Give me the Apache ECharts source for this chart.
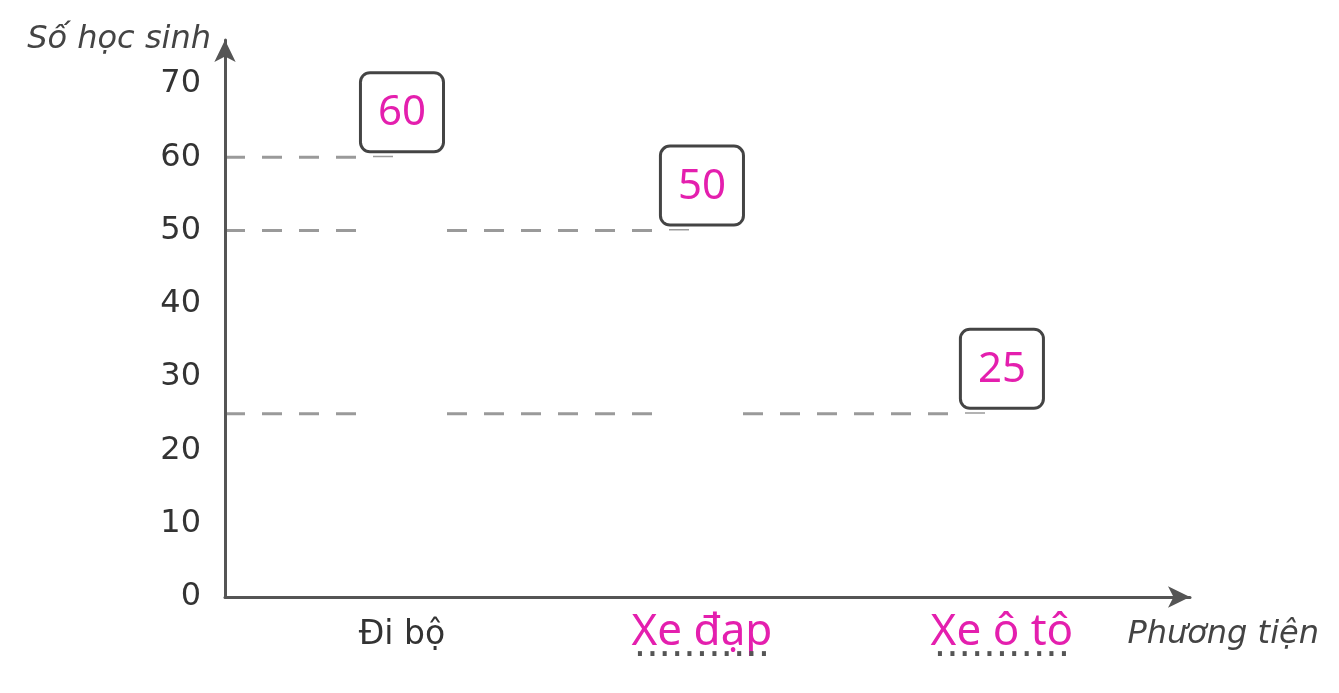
<!DOCTYPE html>
<html lang="vi">
<head>
    <meta charset="UTF-8">
    <title>Số học sinh theo phương tiện</title>
    <script src="https://cdn.jsdelivr.net/npm/echarts@6/dist/echarts.min.js"></script>
    <style>
        html, body { margin: 0; padding: 0; background: #fff; }
    </style>
</head>
<body>
    <div id="main" style="width: 1339px; height: 693px"></div>
    <script>
        // du lieu
        var categories = ['Đi bộ', 'Xe đạp', 'Xe ô tô'];
        var values = [60, 50, 25];
        var filledIn = [false, true, true];   // nhung o hoc sinh dien vao (mau hong)
        var yTicks = [0, 10, 20, 30, 40, 50, 60, 70];

        var XMIN = -0.59, XMAX = 2.627;
        var PINK = '#e41fae';

        var mychart = echarts.init(document.getElementById('main'));

        // duong gach ngang tu truc tung den cot
        var guideSeries = values.map(function (v, i) {
            return {
                type: 'line',
                z: 1,
                symbol: 'none',
                silent: true,
                data: [[XMIN, v], [i, v]],
                lineStyle: { color: '#9a9a9a', width: 3, type: [20, 17] }
            };
        });

        var option = {
            animation: false,
            grid: { left: 225, right: 149, top: 40, bottom: 96, outerBoundsMode: 'none' },
            xAxis: {
                type: 'value',
                z: 5,
                min: XMIN,
                max: XMAX,
                name: 'Phương tiện',
                nameLocation: 'end',
                nameGap: 129,
                nameTextStyle: {
                    fontFamily: 'DejaVu Sans', fontStyle: 'italic', fontSize: 32,
                    color: '#444', align: 'right', verticalAlign: 'top', padding: [22, 0, 0, 0]
                },
                splitLine: { show: false },
                axisTick: { show: false },
                axisLine: {
                    onZero: false,
                    lineStyle: { color: '#555', width: 3 },
                    symbol: ['none', 'arrow'],
                    symbolSize: [16, 22]
                },
                axisLabel: {
                    customValues: [0, 1, 2],
                    margin: 20,
                    formatter: function (v) {
                        var i = Math.round(v);
                        if (filledIn[i]) return '{m|' + categories[i] + '}\n{u|···········}';
                        return '{n|' + categories[i] + '}';
                    },
                    rich: {
                        n: { fontFamily: 'DejaVu Sans', fontSize: 33, color: '#333', lineHeight: 36 },
                        m: { fontFamily: 'Noto Sans', fontSize: 44, color: PINK, lineHeight: 30 },
                        u: { fontFamily: 'DejaVu Sans', fontSize: 39, color: '#555', lineHeight: 19 }
                    }
                }
            },
            yAxis: {
                type: 'value',
                z: 5,
                min: 0,
                max: 76,
                name: 'Số học sinh',
                nameLocation: 'end',
                nameGap: 0,
                nameTextStyle: {
                    fontFamily: 'DejaVu Sans', fontStyle: 'italic', fontSize: 32,
                    color: '#444', align: 'right', verticalAlign: 'middle', padding: [0, 14, 0, 0]
                },
                splitLine: { show: false },
                axisTick: { show: false },
                axisLine: {
                    show: true,
                    onZero: false,
                    lineStyle: { color: '#555', width: 3 },
                    symbol: ['none', 'arrow'],
                    symbolSize: [16, 22]
                },
                axisLabel: {
                    customValues: yTicks,
                    margin: 24,
                    fontFamily: 'DejaVu Sans',
                    fontSize: 32,
                    color: '#333'
                }
            },
            series: guideSeries.concat([{
                type: 'bar',
                z: 3,
                barWidth: 76,
                data: values.map(function (v, i) { return [i, v]; }),
                itemStyle: { color: '#ffffff' },
                label: {
                    show: true,
                    position: 'top',
                    distance: 7,
                    formatter: function (p) { return p.value[1]; },
                    fontFamily: 'Noto Sans',
                    fontSize: 42,
                    lineHeight: 42,
                    color: PINK,
                    backgroundColor: '#fff',
                    borderColor: '#444',
                    borderWidth: 3,
                    borderRadius: 8,
                    padding: [18, 16, 16, 16]
                }
            }])
        };

        mychart.setOption(option);
    </script>
</body>
</html>
